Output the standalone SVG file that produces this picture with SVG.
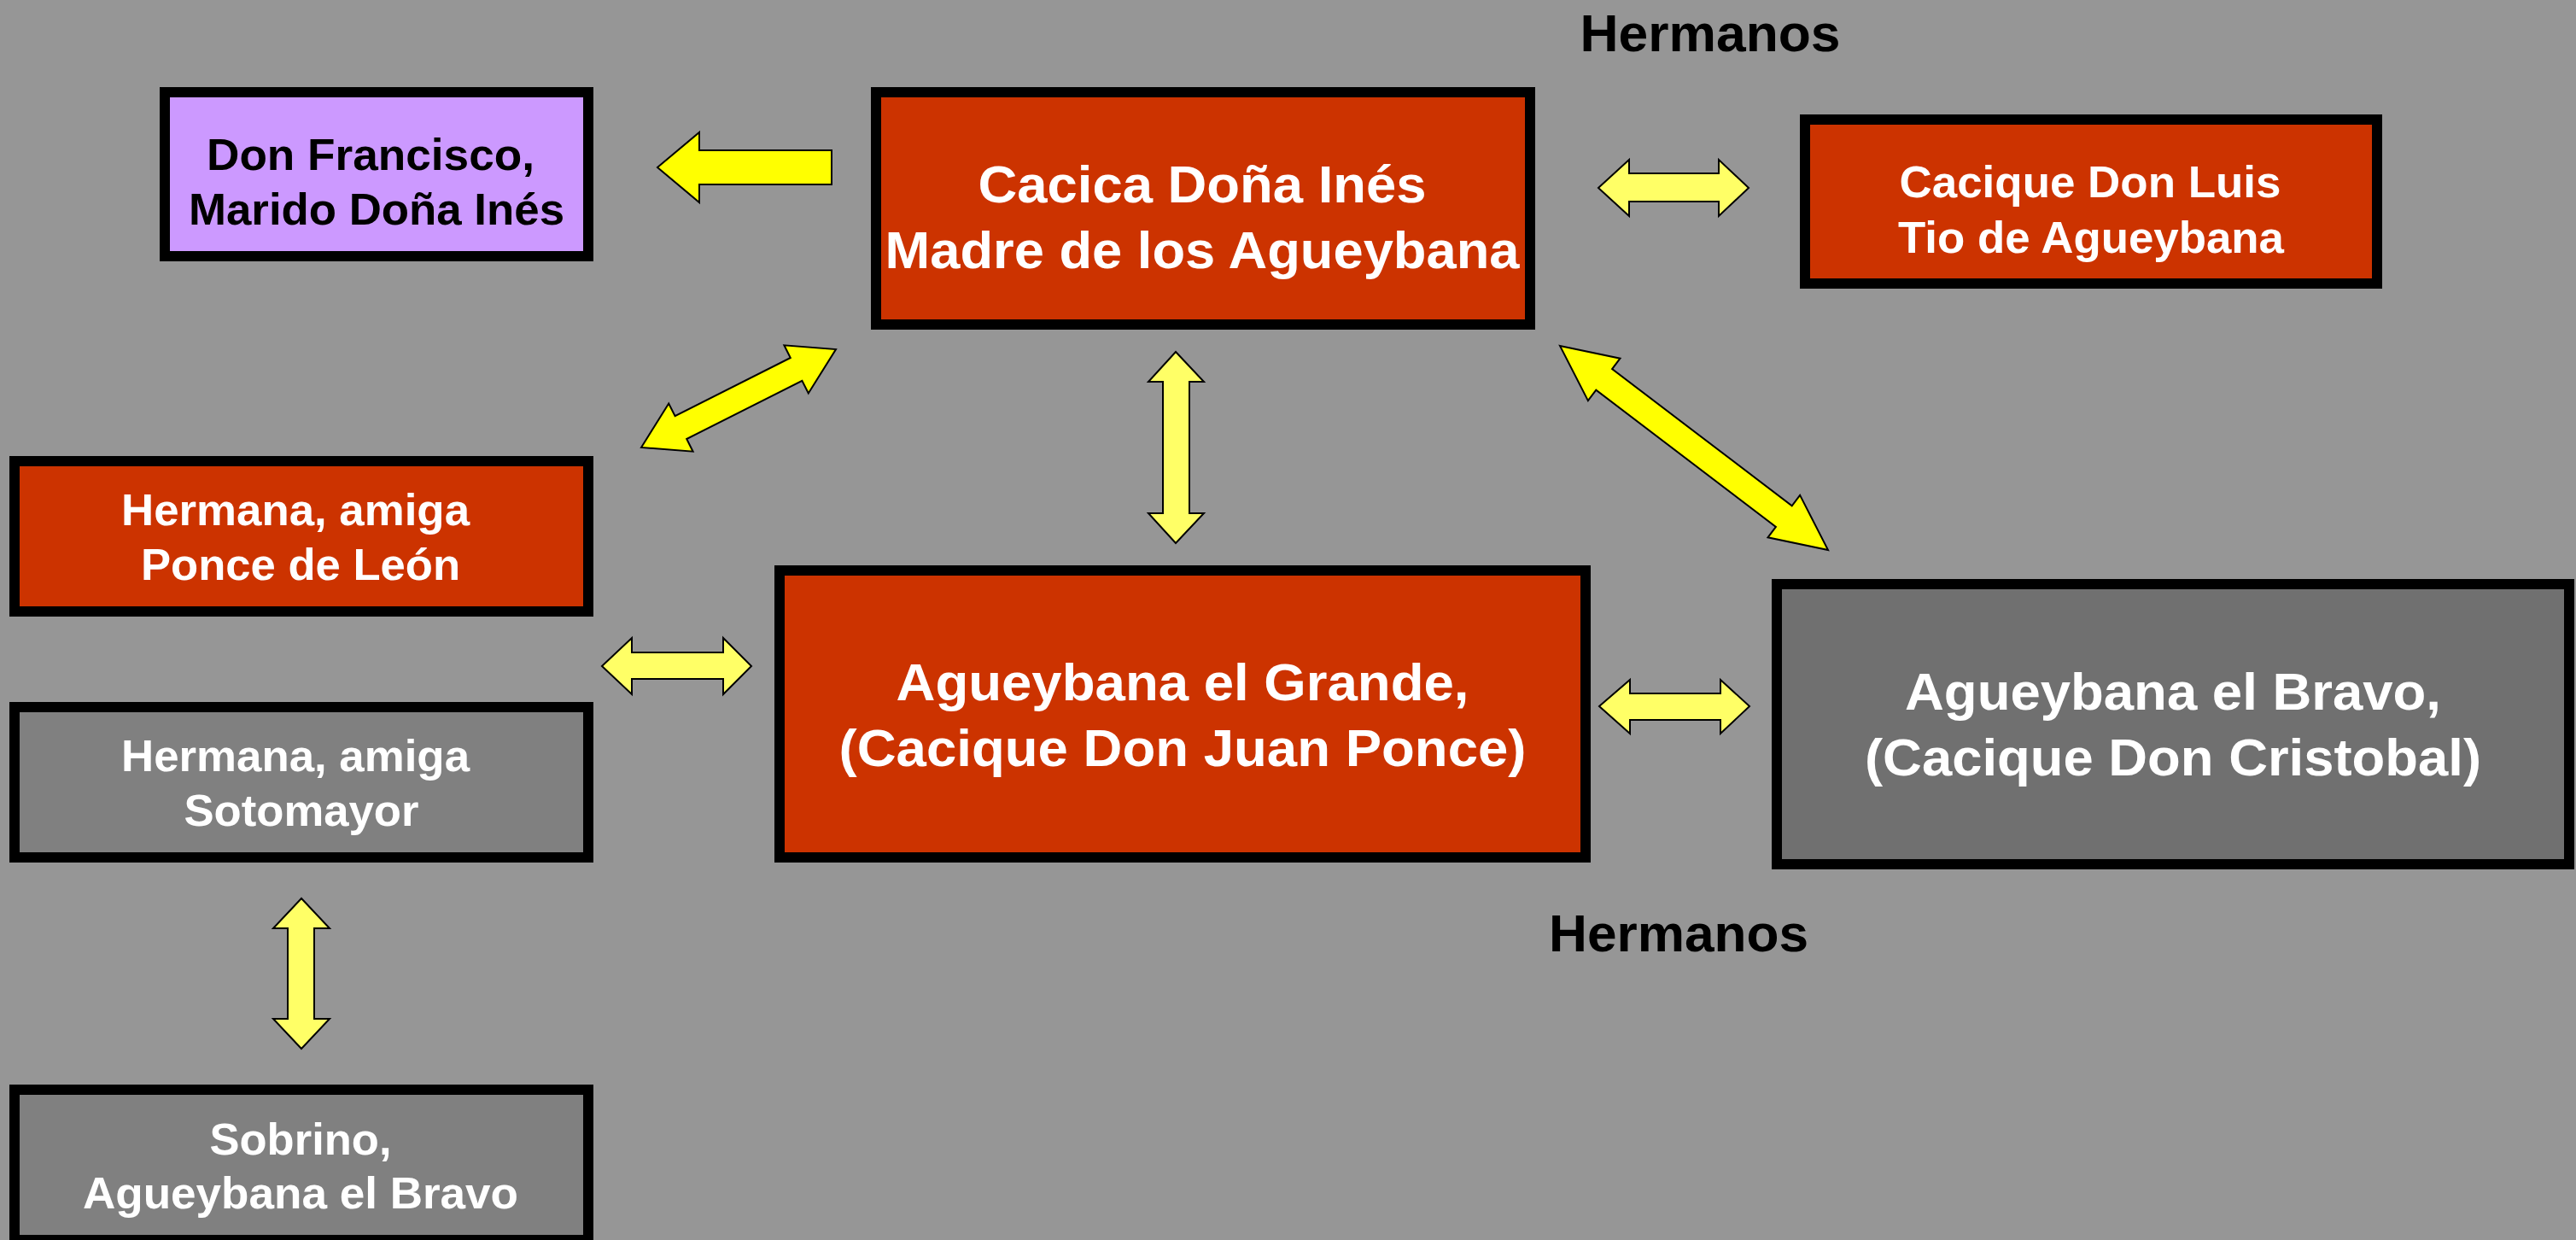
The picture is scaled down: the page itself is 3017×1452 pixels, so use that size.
<svg xmlns="http://www.w3.org/2000/svg" width="3017" height="1452" viewBox="0 0 3017 1452">
<style>
.box{stroke:#000;stroke-width:12}
.red{fill:#CC3300}
.lav{fill:#CC99FF}
.gry{fill:#808080}
.dgr{fill:#707070}
.t{font-family:"Liberation Sans Narrow","Liberation Sans",Arial,sans-serif;font-weight:bold;text-anchor:middle}
.w{fill:#fff}
.k{fill:#000}
.s52{font-size:52px}
.s62{font-size:62px}
.s60{font-size:60px}
.ay{fill:#FFFF00;stroke:#000;stroke-width:2;stroke-linejoin:miter}
.ap{fill:#FFFF66;stroke:#000;stroke-width:2;stroke-linejoin:miter}
</style>
<rect x="0" y="0" width="3017" height="1452" fill="#969696"/>
<g id="connectors">
<polygon class="ay" points="770,196 819,155 819,176 974,176 974,216 819,216 819,237"/>
<polygon class="ap" points="1872,220 1908,187 1908,203 2013,203 2013,187 2048,220 2013,253 2013,236 1908,236 1908,253"/>
<polygon class="ap" points="705,780 740,747 740,764 847,764 847,747 880,780 847,813 847,795 740,795 740,813"/>
<polygon class="ap" points="1873,827 1909,796 1909,812 2015,812 2015,796 2049,827 2015,859 2015,843 1909,843 1909,859"/>
<polygon class="ap" points="1377,412 1410,447 1393,447 1393,601 1410,601 1377,636 1345,601 1362,601 1362,447 1345,447"/>
<polygon class="ap" points="353,1052 386,1087 368,1087 368,1193 386,1193 353,1228 320,1193 337,1193 337,1087 320,1087"/>
<polygon class="ay" points="751,524 783.2,472.5 790.6,487.2 925.8,419 918.4,404.3 979,409 946.8,460.5 939.4,445.8 804.2,514 811.6,528.7"/>
<polygon class="ay" points="1827,405 1897.5,419.7 1888.1,432.1 2098.7,592.3 2108.1,579.9 2141,644 2070.5,629.3 2079.9,616.9 1869.3,456.7 1859.9,469.1"/>
</g>
<g id="hermanos-top"><text class="t k s62" x="2003" y="60" textLength="305" lengthAdjust="spacingAndGlyphs">Hermanos</text></g>
<g id="hermanos-bottom"><text class="t k s62" x="1966" y="1114" textLength="304" lengthAdjust="spacingAndGlyphs">Hermanos</text></g>
<g id="don-francisco">
<rect class="box lav" x="193" y="108" width="496" height="192"/>
<text class="t k s52" x="434" y="199" textLength="384" lengthAdjust="spacingAndGlyphs">Don Francisco,</text>
<text class="t k s52" x="441" y="263" textLength="440" lengthAdjust="spacingAndGlyphs">Marido Doña Inés</text>
</g>
<g id="cacica">
<rect class="box red" x="1026" y="108" width="766" height="272"/>
<text class="t w s62" x="1408" y="237" textLength="525" lengthAdjust="spacingAndGlyphs">Cacica Doña Inés</text>
<text class="t w s62" x="1408" y="314" textLength="743" lengthAdjust="spacingAndGlyphs">Madre de los Agueybana</text>
</g>
<g id="luis">
<rect class="box red" x="2114" y="140" width="670" height="192"/>
<text class="t w s52" x="2448" y="231" textLength="447" lengthAdjust="spacingAndGlyphs">Cacique Don Luis</text>
<text class="t w s52" x="2449" y="296" textLength="452" lengthAdjust="spacingAndGlyphs">Tio de Agueybana</text>
</g>
<g id="ponce">
<rect class="box red" x="17" y="540" width="672" height="176"/>
<text class="t w s52" x="346" y="615" textLength="408" lengthAdjust="spacingAndGlyphs">Hermana, amiga</text>
<text class="t w s52" x="352" y="679" textLength="374" lengthAdjust="spacingAndGlyphs">Ponce de León</text>
</g>
<g id="sotomayor">
<rect class="box gry" x="17" y="828" width="672" height="176"/>
<text class="t w s52" x="346" y="903" textLength="408" lengthAdjust="spacingAndGlyphs">Hermana, amiga</text>
<text class="t w s52" x="353" y="967" textLength="275" lengthAdjust="spacingAndGlyphs">Sotomayor</text>
</g>
<g id="grande">
<rect class="box red" x="913" y="668" width="944" height="336"/>
<text class="t w s62" x="1385" y="820" textLength="671" lengthAdjust="spacingAndGlyphs">Agueybana el Grande,</text>
<text class="t w s62" x="1385" y="897" textLength="805" lengthAdjust="spacingAndGlyphs">(Cacique Don Juan Ponce)</text>
</g>
<g id="bravo">
<rect class="box dgr" x="2081" y="684" width="928" height="328"/>
<text class="t w s62" x="2545" y="831" textLength="628" lengthAdjust="spacingAndGlyphs">Agueybana el Bravo,</text>
<text class="t w s62" x="2545" y="908" textLength="722" lengthAdjust="spacingAndGlyphs">(Cacique Don Cristobal)</text>
</g>
<g id="sobrino">
<rect class="box gry" x="17" y="1276" width="672" height="176"/>
<text class="t w s52" x="352" y="1352" textLength="213" lengthAdjust="spacingAndGlyphs">Sobrino,</text>
<text class="t w s52" x="352" y="1415" textLength="510" lengthAdjust="spacingAndGlyphs">Agueybana el Bravo</text>
</g>
</svg>
